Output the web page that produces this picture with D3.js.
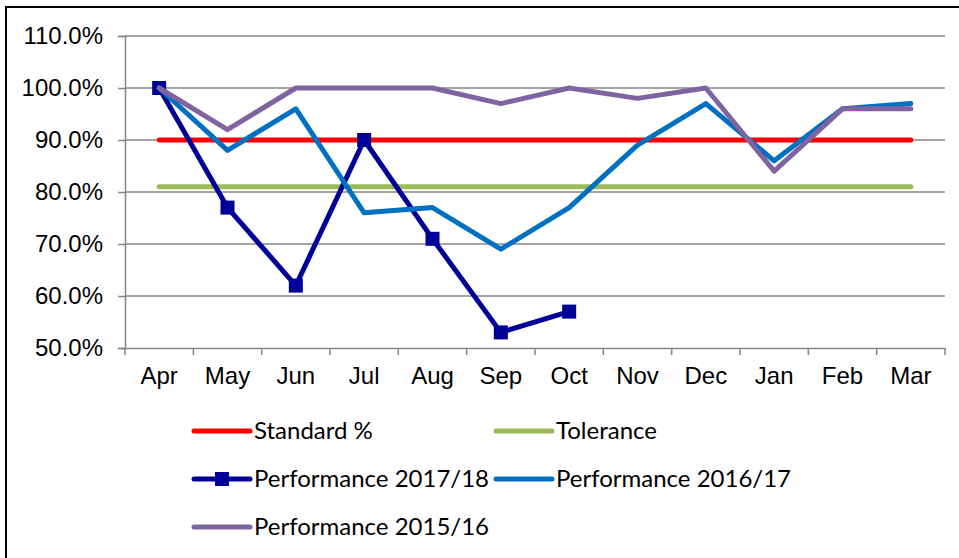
<!DOCTYPE html>
<html>
<head>
<meta charset="utf-8">
<script src="https://cdn.jsdelivr.net/npm/d3@7"></script>
<style>
    body { margin: 0; background: #fff; }
    svg { display: block; }
</style>
</head>
<body>
<svg id="chart" width="959" height="558"></svg>
<script>
'use strict';

var months = ["Apr", "May", "Jun", "Jul", "Aug", "Sep", "Oct", "Nov", "Dec", "Jan", "Feb", "Mar"];
var yTicks = [0.5, 0.6, 0.7, 0.8, 0.9, 1.0, 1.1];

var standard = [0.90, 0.90, 0.90, 0.90, 0.90, 0.90, 0.90, 0.90, 0.90, 0.90, 0.90, 0.90];
var tolerance = [0.81, 0.81, 0.81, 0.81, 0.81, 0.81, 0.81, 0.81, 0.81, 0.81, 0.81, 0.81];
var perf1718 = [1.00, 0.77, 0.62, 0.90, 0.71, 0.53, 0.57];
var perf1617 = [1.00, 0.88, 0.96, 0.76, 0.77, 0.69, 0.77, 0.89, 0.97, 0.86, 0.96, 0.97];
var perf1516 = [1.00, 0.92, 1.00, 1.00, 1.00, 0.97, 1.00, 0.98, 1.00, 0.84, 0.96, 0.96];

var series = [
    { name: "Standard %", values: standard, color: "#ff0000", marker: false },
    { name: "Tolerance", values: tolerance, color: "#9bbb59", marker: false },
    { name: "Performance 2017/18", values: perf1718, color: "#000099", marker: true },
    { name: "Performance 2016/17", values: perf1617, color: "#0070c0", marker: false },
    { name: "Performance 2015/16", values: perf1516, color: "#8064a2", marker: false }
];

var svg = d3.select("#chart");
var plot = { left: 125, right: 945, top: 36, bottom: 348 };

var x = d3.scaleBand().domain(months).range([plot.left, plot.right]);
var y = d3.scaleLinear().domain([0.5, 1.1]).range([plot.bottom, plot.top]);

function cx(d, i) {
    return x(months[i]) + x.bandwidth() / 2;
}

// outer frame, only left and top edges are in view
svg.append("rect")
    .attr("x", 6).attr("y", 7)
    .attr("width", 1000).attr("height", 600)
    .attr("fill", "#fff")
    .attr("stroke", "#000")
    .attr("stroke-width", 2);

// gridlines
svg.append("g")
    .selectAll("line")
    .data(yTicks.slice(1))
    .enter()
    .append("line")
    .attr("x1", plot.left).attr("x2", plot.right)
    .attr("y1", function (d) { return y(d); })
    .attr("y2", function (d) { return y(d); })
    .attr("stroke", "#868686")
    .attr("stroke-width", 1.5);

// y axis
var yAxis = svg.append("g")
    .attr("transform", "translate(" + plot.left + ",0)")
    .call(d3.axisLeft(y).tickValues(yTicks).tickFormat(d3.format(".1%")).tickSize(7).tickPadding(15));

// x axis
var xAxis = svg.append("g")
    .attr("transform", "translate(0," + plot.bottom + ")")
    .call(d3.axisBottom(x).tickSize(0).tickPadding(28));

// category boundary ticks
xAxis.selectAll("line.bound")
    .data(d3.range(months.length + 1))
    .enter()
    .append("line")
    .attr("class", "bound")
    .attr("x1", function (i) { return plot.left + i * x.step(); })
    .attr("x2", function (i) { return plot.left + i * x.step(); })
    .attr("y1", 0).attr("y2", 7)
    .attr("stroke", "#868686")
    .attr("stroke-width", 1.5);

[yAxis, xAxis].forEach(function (ax) {
    ax.select(".domain").attr("stroke", "#868686").attr("stroke-width", 1.5);
    ax.selectAll(".tick line").attr("stroke", "#868686").attr("stroke-width", 1.5);
    ax.selectAll("text")
        .attr("fill", "#000")
        .style("font-family", "'Liberation Sans', Arial, sans-serif")
        .style("font-size", "24px");
});
xAxis.selectAll(".tick text").attr("dy", "0.32em");

var line = d3.line()
    .x(cx)
    .y(function (d) { return y(d); });

series.forEach(function (s) {
    svg.append("path")
        .datum(s.values)
        .attr("d", line)
        .attr("fill", "none")
        .attr("stroke", s.color)
        .attr("stroke-width", 5)
        .attr("stroke-linejoin", "round")
        .attr("stroke-linecap", "round");

    if (s.marker) {
        svg.append("g")
            .selectAll("rect")
            .data(s.values)
            .enter()
            .append("rect")
            .attr("x", function (d, i) { return cx(d, i) - 7; })
            .attr("y", function (d) { return y(d) - 7; })
            .attr("width", 14).attr("height", 14)
            .attr("fill", s.color);
    }
});

// legend, two columns
var legend = svg.append("g").attr("class", "legend");
var colX = [194, 496];
var rowY = [431, 479, 527];

var entries = legend.selectAll("g.entry")
    .data(series)
    .enter()
    .append("g")
    .attr("class", "entry")
    .attr("transform", function (d, i) {
        return "translate(" + colX[i % 2] + "," + rowY[Math.floor(i / 2)] + ")";
    });

entries.append("line")
    .attr("x1", 0).attr("x2", 56)
    .attr("stroke", function (d) { return d.color; })
    .attr("stroke-width", 5)
    .attr("stroke-linecap", "round");

entries.filter(function (d) { return d.marker; })
    .append("rect")
    .attr("x", 21).attr("y", -7)
    .attr("width", 14).attr("height", 14)
    .attr("fill", function (d) { return d.color; });

entries.append("text")
    .attr("x", 60)
    .attr("dy", "0.35em")
    .style("font-family", "Lato, 'Noto Sans', sans-serif")
    .style("font-size", "24px")
    .attr("fill", "#000")
    .text(function (d) { return d.name; });
</script>
</body>
</html>
